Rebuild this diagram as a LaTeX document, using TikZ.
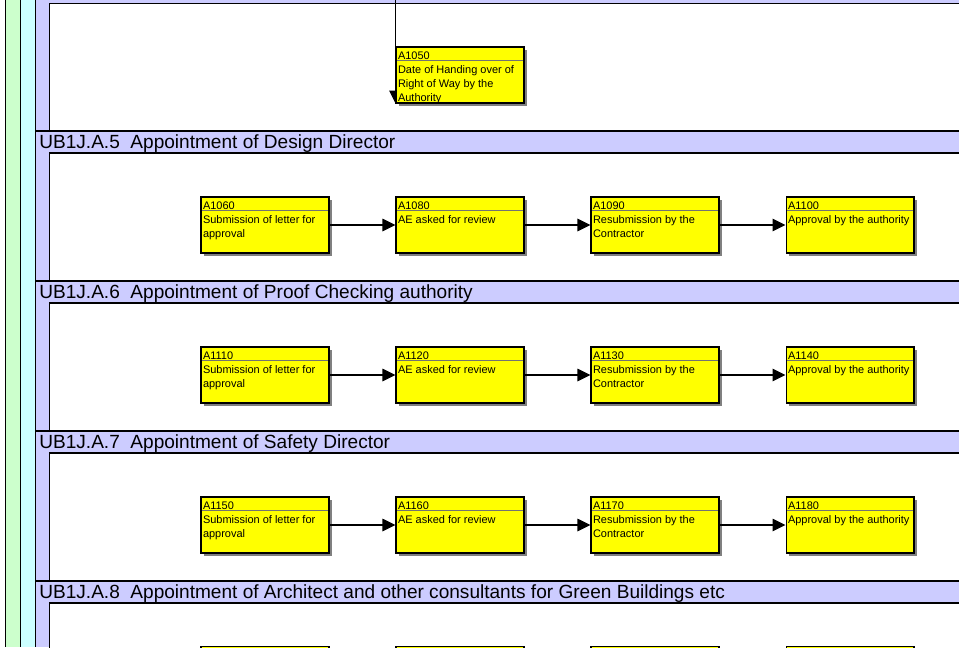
\documentclass[tikz,border=0pt]{standalone}
\usepackage{fontspec}
\setmainfont{Liberation Sans}
\usetikzlibrary{positioning, arrows.meta, shadows}

\definecolor{lane}{HTML}{CCCCFF}
\definecolor{wbsgreen}{HTML}{CCFFCC}
\definecolor{wbscyan}{HTML}{CCFFFF}
\definecolor{actyellow}{HTML}{FFFF00}

% activity text: id on top, description below
\newcommand{\acttext}[2]{\parbox[c][1.12cm][t]{2.48cm}{\raggedright\rule{0pt}{7pt}#1\\#2}}

\begin{document}
\begin{tikzpicture}[
    x=0.02cm, y=-0.02cm,
    act/.style={draw, fill=actyellow, line width=0.6pt, inner sep=0pt,
                minimum width=2.56cm, minimum height=1.12cm,
                font=\fontsize{6.25}{7.94}\selectfont,
                drop shadow={shadow xshift=0.06cm, shadow yshift=-0.06cm,
                             fill=black!50, opacity=1},
                path picture={\draw[black!55, line width=0.5pt]
                   ([yshift=-0.27cm]path picture bounding box.north west) --
                   ([yshift=-0.27cm]path picture bounding box.north east);}},
    arw/.style={-{Triangle[length=0.26cm, width=0.25cm]}, line width=0.6pt},
    hd/.style={anchor=base west, inner sep=0pt, font=\fontsize{10.85}{12}\selectfont},
    frm/.style={draw, line width=0.6pt},
]
\clip (0,0) rectangle (959,647);

% wbs lanes
\fill[white] (0,0) rectangle (5.5,647);
\fill[wbsgreen] (5.5,0) rectangle (20.5,647);
\fill[wbscyan] (20.5,0) rectangle (35.5,647);
\fill[lane] (35.5,0) rectangle (970,647);
\foreach \x in {5.5, 20.5, 35.5}
    \draw[line width=0.6pt] (\x,0) -- (\x,647);

% section bands
\foreach \y in {131, 281, 431, 581}
    \draw[line width=0.6pt] (35.5,\y) -- (970,\y);
\foreach \t/\b in {3.5/131, 153/281, 303/431, 453/581, 603/700}
    \draw[frm, fill=white] (49.5,\t) rectangle (970,\b);

\node[hd] (h5) at (39,148) {UB1J.A.5\ \ Appointment of Design Director};
\node[hd] (h6) at (39,298) {UB1J.A.6\ \ Appointment of Proof Checking authority};
\node[hd] (h7) at (39,448) {UB1J.A.7\ \ Appointment of Safety Director};
\node[hd] (h8) at (39,598) {UB1J.A.8\ \ Appointment of Architect and other consultants for Green Buildings etc};

% hand over of right of way
\coordinate (row) at (395.5,-2);
\draw[arw] (row) -- (395.5,103.5);
\node[act] (a1050) at (460,75) {\acttext{A1050}{Date of Handing over of\\Right of Way by the\\Authority}};

\node[act] (a1060) at (265,225) {\acttext{A1060}{Submission of letter for\\approval}};
\node[act] (a1080) at (460,225) {\acttext{A1080}{AE asked for review}};
\node[act] (a1090) at (655,225) {\acttext{A1090}{Resubmission by the\\Contractor}};
\node[act] (a1100) at (850,225) {\acttext{A1100}{Approval by the authority}};

\node[act] (a1110) at (265,375) {\acttext{A1110}{Submission of letter for\\approval}};
\node[act] (a1120) at (460,375) {\acttext{A1120}{AE asked for review}};
\node[act] (a1130) at (655,375) {\acttext{A1130}{Resubmission by the\\Contractor}};
\node[act] (a1140) at (850,375) {\acttext{A1140}{Approval by the authority}};

\node[act] (a1150) at (265,525) {\acttext{A1150}{Submission of letter for\\approval}};
\node[act] (a1160) at (460,525) {\acttext{A1160}{AE asked for review}};
\node[act] (a1170) at (655,525) {\acttext{A1170}{Resubmission by the\\Contractor}};
\node[act] (a1180) at (850,525) {\acttext{A1180}{Approval by the authority}};

\node[act] (n1) at (265,674.5) {};
\node[act] (n2) at (460,674.5) {};
\node[act] (n3) at (655,674.5) {};
\node[act] (n4) at (850,674.5) {};

\foreach \a/\b in {a1060/a1080, a1080/a1090, a1090/a1100,
                   a1110/a1120, a1120/a1130, a1130/a1140,
                   a1150/a1160, a1160/a1170, a1170/a1180}
    \draw[arw] (\a) -- (\b);
\end{tikzpicture}
\end{document}
